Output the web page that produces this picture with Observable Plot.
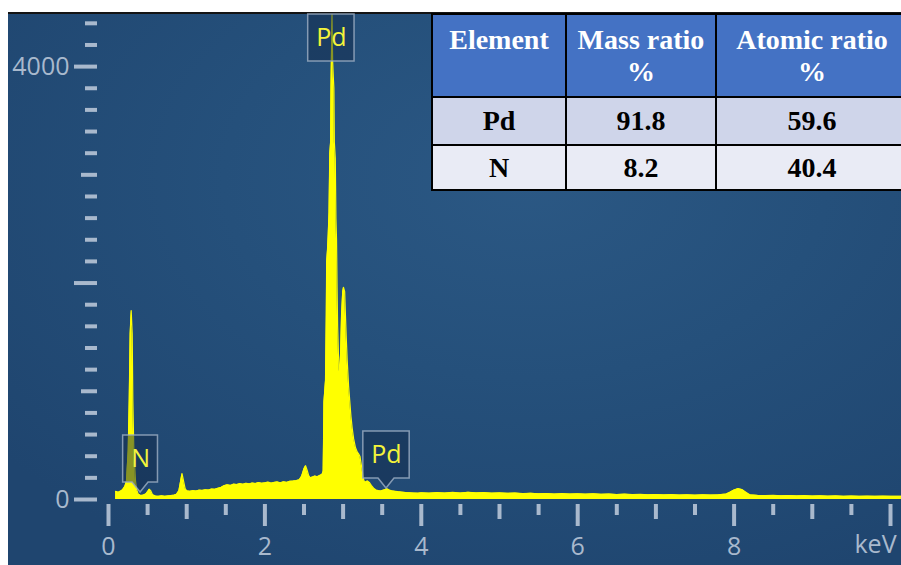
<!DOCTYPE html>
<html>
<head>
<meta charset="utf-8">
<script src="https://cdn.jsdelivr.net/npm/d3@7"></script>
<script src="https://cdn.jsdelivr.net/npm/@observablehq/plot@0.6"></script>
<style>
  body { margin: 0; background: #ffffff; }
  #wrap { position: relative; width: 901px; height: 565px; overflow: hidden; background: #ffffff; }
  #bg { position: absolute; left: 8px; top: 12px; width: 893px; height: 553px;
        background: radial-gradient(ellipse 75% 80% at 58% 30%, #2b5884 0%, #25507b 45%, #1f456f 100%);
        border-top: 2px solid #141414; box-sizing: border-box; }
  #wrap svg { position: absolute; left: 0; top: 0; }
  #tbl { position: absolute; left: 431px; top: 13px; width: 476px; max-width: none; border-collapse: collapse; table-layout: fixed;
         font-family: "Liberation Serif", "Times New Roman", serif; font-weight: bold; font-size: 28px; }
  #tbl th, #tbl td { border: 2px solid #000; padding: 0; text-align: center; }
  #tbl th { background: #4472c4; color: #ffffff; vertical-align: top; line-height: 32px; height: 83px; padding-top: 9px; box-sizing: border-box; }
  #tbl td { color: #000; vertical-align: middle; line-height: 30px; }
  #tbl tr.r0 td { background: #cfd5ea; height: 46px; }
  #tbl tr.r1 td { background: #e9ebf5; height: 43px; }
</style>
</head>
<body>
<div id="wrap"><div id="bg"></div></div>
<script>
// ---------------- data ----------------
const energy = [
  0.09,0.11,0.13,0.15,0.17,0.19,0.21,0.23,0.252,0.265,0.277,0.29,0.303,0.311,0.324,0.345,0.36,0.38,
  0.40,0.42,0.44,0.46,0.48,0.50,0.52,0.54,0.56,0.58,0.60,0.64,0.68,0.72,0.76,0.80,0.84,0.87,0.90,0.92,0.94,0.96,0.98,1.00,
  1.04,1.08,1.12,1.16,1.20,1.24,1.28,1.32,1.36,1.40,1.44,1.48,1.52,1.56,1.60,1.64,1.68,1.72,1.76,1.80,1.84,1.88,1.92,1.96,2.00,2.04,2.08,2.12,2.16,2.20,2.24,2.28,2.32,2.36,2.40,2.44,
  2.47,2.50,2.52,2.54,2.56,2.58,2.61,2.64,2.67,2.70,2.73,2.745,
  2.75,2.755,2.765,2.775,2.785,2.79,2.80,2.81,2.82,2.83,2.84,2.845,2.85,2.858,2.866,2.875,2.882,2.888,2.90,2.908,2.916,2.922,2.93,2.94,2.95,2.958,2.968,2.98,2.995,3.005,3.02,3.03,3.04,3.052,
  3.07,3.086,3.10,3.116,3.135,3.158,3.18,3.20,3.215,3.235,3.25,3.265,3.285,3.31,3.335,3.36,3.39,3.42,3.45,3.48,3.51,3.54,3.56,3.59,3.62,3.66,3.70,3.75,3.80,3.85,3.90,3.95,
  4.0,4.1,4.2,4.3,4.4,4.5,4.6,4.7,4.8,4.9,5.0,5.1,5.2,5.3,5.4,5.5,5.6,5.7,5.8,5.9,6.0,6.1,6.2,6.3,6.4,6.5,6.6,6.7,6.8,6.9,7.0,7.1,7.2,7.3,7.4,7.5,7.6,7.7,7.8,
  7.9,7.95,8.0,8.05,8.1,8.15,8.2,
  8.3,8.4,8.5,8.6,8.7,8.8,8.9,9.0,9.1,9.2,9.3,9.4,9.5,9.6,9.7,9.8,9.9,10.0,10.1,10.14
];
const counts = [
  75,70,68,76,84,100,122,170,453,915,1530,1746,1530,915,453,175,90,50,
  42,38,40,45,52,72,95,82,48,38,32,30,34,29,33,36,40,48,80,160,240,170,100,80,
  76,82,78,86,84,90,88,96,94,104,112,128,136,130,142,138,146,140,150,144,152,148,156,150,154,160,151,158,162,154,164,158,168,170,174,182,
  215,285,312,270,220,200,208,216,210,222,232,260,
  550,900,1000,1100,1700,2200,2300,2450,2650,3200,3300,3800,4050,4480,4050,3900,3800,3300,3150,2600,2400,2000,1600,1350,1200,1160,1350,1700,1920,1960,1920,1700,1500,1290,
  1050,900,770,660,560,480,440,420,400,310,240,175,160,172,158,130,105,88,82,78,85,92,100,88,80,76,72,68,64,62,60,58,
  62,58,63,59,65,60,66,61,63,58,61,57,59,54,57,52,55,51,54,50,53,49,52,48,50,46,49,45,47,43,46,42,45,41,44,40,43,41,44,
  50,68,88,100,92,68,44,
  38,36,38,34,36,33,35,32,34,31,33,30,32,30,31,29,31,29,30,29
];

// axis ticks and labels
const xMajorTicks = [0, 2, 4, 6, 8, 10];
const xMidTicks = [1, 3, 5, 7, 9];
const xMinorTicks = [0.5, 1.5, 2.5, 3.5, 4.5, 5.5, 6.5, 7.5, 8.5, 9.5];
const xUnit = "keV";
const yMajorTicks = [0, 2000, 4000];
const yLabelledTicks = [0, 4000];
const yMidTicks = [1000, 3000];
const yMinorTicks = [200, 400, 600, 800, 1200, 1400, 1600, 1800, 2200, 2400, 2600, 2800, 3200, 3400, 3600, 3800, 4200, 4400];

// peak labels (anchor energy in keV, anchor counts)
const labelNames = ["N", "Pd", "Pd"];
const labelEnergy = [0.41, 2.85, 3.555];
const labelCounts = [65, 3955, 102];
const labelPointer = [true, false, true];

// composition table
const tableHeader = [["Element"], ["Mass ratio", "%"], ["Atomic ratio", "%"]];
const tableElements = ["Pd", "N"];
const massRatio = [91.8, 8.2];
const atomicRatio = [59.6, 40.4];

// ---------------- chart ----------------
const spectrum = energy.map((e, i) => ({e, c: counts[i]}));
const labels = labelNames.map((name, i) => ({name, e: labelEnergy[i], c: labelCounts[i], pointer: labelPointer[i]}));

const tickColor = "#a9b9cd";
const yellow = "#ffff00";
const axisFont = "'Open Sans', 'Noto Sans', sans-serif";
const BOX_H = 47, GAP = 10;

const plot = Plot.plot({
  width: 901,
  height: 565,
  marginLeft: 97,
  marginRight: 0,
  marginTop: 12,
  marginBottom: 61,
  x: {domain: [0, 10], range: [108, 890], label: null},
  y: {domain: [0, 4500], range: [499, 12], label: null},
  style: {background: "transparent", color: tickColor, fontFamily: axisFont, fontSize: "25px", overflow: "visible"},
  marks: [
    Plot.areaY(spectrum, {x: "e", y: "c", fill: yellow}),
    Plot.lineY(spectrum, {x: "e", y: "c", stroke: yellow, strokeWidth: 1.2}),
    Plot.axisY({ticks: yMinorTicks, tickSize: 12, tickFormat: () => "", strokeWidth: 4, label: null}),
    Plot.axisY({ticks: yMidTicks, tickSize: 16, tickFormat: () => "", strokeWidth: 4, label: null}),
    Plot.axisY({ticks: yMajorTicks, tickSize: 23, tickPadding: 5,
                tickFormat: d => yLabelledTicks.includes(d) ? String(d) : "", strokeWidth: 4, label: null}),
    Plot.axisX({ticks: xMinorTicks, tickSize: 11, tickFormat: () => "", strokeWidth: 4, label: null}),
    Plot.axisX({ticks: xMidTicks, tickSize: 15, tickFormat: () => "", strokeWidth: 4, label: null}),
    Plot.axisX({ticks: xMajorTicks, tickSize: 22, tickPadding: 11,
                tickFormat: d => d === 10 ? "" : String(d), strokeWidth: 4, label: null}),
    Plot.text([{e: 10, t: xUnit}], {x: "e", text: "t", frameAnchor: "bottom", dy: 48, dx: -15,
                fill: tickColor, fontSize: 25, fontFamily: axisFont}),
    Plot.text(labels, {x: "e", y: "c", text: "name", dy: -(GAP + BOX_H / 2),
                fill: "#f4f43a", fontSize: 25, fontFamily: axisFont})
  ]
});
document.getElementById("wrap").appendChild(plot);

// label boxes, positioned through the plot's own scales
function scaleFn(name) {
  const s = plot.scale(name);
  return s.apply ? (v => s.apply(v)) : d3.scaleLinear(s.domain, s.range);
}
const sx = scaleFn("x"), sy = scaleFn("y");
const textGroups = plot.querySelectorAll('g[aria-label="text"]');
const labelG = textGroups[textGroups.length - 1];
const labelTexts = labelG.querySelectorAll("text");
const boxG = d3.create("svg:g").attr("aria-label", "label boxes");
labels.forEach((d, i) => {
  const tx = sx(d.e), ty = sy(d.c);
  const w = labelTexts[i].getBBox().width + 16;
  const B = ty - GAP, T = B - BOX_H, L = tx - w / 2, R = tx + w / 2;
  const path = d.pointer
    ? `M${L},${T}H${R}V${B}H${tx + 8}L${tx},${ty}L${tx - 8},${B}H${L}Z`
    : `M${L},${T}H${R}V${B}H${L}Z`;
  boxG.append("path").attr("d", path)
    .attr("fill", "rgba(18,42,74,0.5)")
    .attr("stroke", "#97a9c0").attr("stroke-opacity", 0.85).attr("stroke-width", 1.5);
});
labelG.parentNode.insertBefore(boxG.node(), labelG);

// composition table
const table = d3.select("#wrap").append("table").attr("id", "tbl");
const cg = table.append("colgroup");
[134, 150, 192].forEach(w => cg.append("col").style("width", w + "px"));
const hr = table.append("tr");
tableHeader.forEach(lines => hr.append("th").html(lines.join("<br>")));
tableElements.forEach((el, i) => {
  const tr = table.append("tr").attr("class", "r" + i);
  tr.append("td").text(el);
  tr.append("td").text(massRatio[i].toFixed(1));
  tr.append("td").text(atomicRatio[i].toFixed(1));
});
</script>
</body>
</html>
